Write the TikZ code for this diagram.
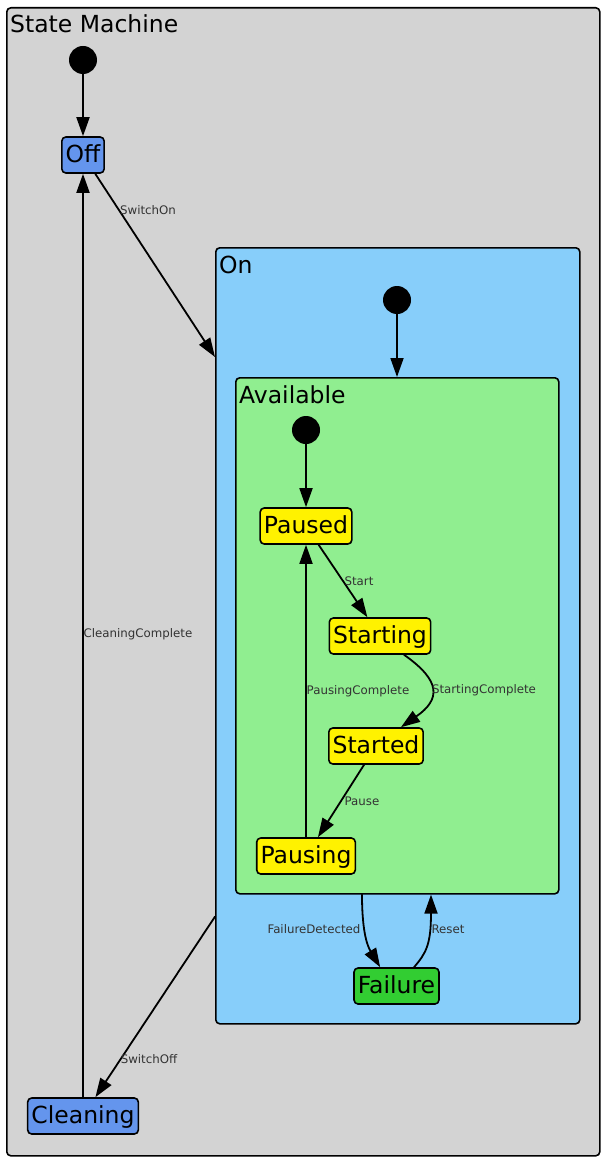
\documentclass[tikz,border=0pt]{standalone}
\usepackage{fontspec}
\setmainfont{DejaVu Sans}
\usetikzlibrary{arrows.meta,calc}
\definecolor{smgray}{HTML}{D3D3D3}
\definecolor{onblue}{HTML}{87CEFA}
\definecolor{availgreen}{HTML}{90EE90}
\definecolor{cornblue}{HTML}{6495ED}
\definecolor{limegr}{HTML}{32CD32}

\begin{document}
\begin{tikzpicture}[line cap=round,line join=round,>={Triangle[length=19pt,width=13pt]},x=1pt,y=-1pt,
    cluster/.style={draw,line width=1.6pt,rounded corners=4pt,anchor=north west,inner sep=0pt},
    clabel/.style={anchor=base west,inner sep=0pt,font=\fontsize{23.5}{28}\selectfont},
    state/.style={draw,line width=1.6pt,rounded corners=4pt,minimum height=36pt,inner xsep=3.8pt,inner ysep=0pt,text height=17.5pt,text depth=3pt,font=\fontsize{23.5}{28}\selectfont},
    init/.style={circle,fill=black,minimum size=28pt,inner sep=0pt},
    elabel/.style={inner sep=0pt,text=black!80,font=\fontsize{11.8}{14}\selectfont},
    edge/.style={line width=1.8pt,->}]
                        \useasboundingbox (0,0) rectangle (606,1161);
                        % clusters
                        \node [cluster,fill=smgray,minimum width=593pt,minimum height=1148pt] (sm) at (6,7) {};
                        \node [clabel] (smlabel) at (10,33) {State Machine};
                        \node [cluster,fill=onblue,minimum width=364pt,minimum height=776pt] (on) at (215,247) {};
                        \node [clabel] (onlabel) at (219,273) {On};
                        \node [cluster,fill=availgreen,minimum width=323pt,minimum height=516pt] (avail) at (235,377) {};
                        \node [clabel] (availlabel) at (239,403) {Available};
                        % states
                        \node [init] (init1) at (83,60) {};
                        \node [init] (init2) at (397,300) {};
                        \node [init] (init3) at (306,430) {};
                        \node [state,fill=cornblue] (off) at (83,155) {Off};
                        \node [state,fill=cornblue] (cleaning) at (83,1116) {Cleaning};
                        \node [state,fill=yellow] (paused) at (306,526) {Paused};
                        \node [state,fill=yellow] (starting) at (380,636) {Starting};
                        \node [state,fill=yellow] (started) at (376,746) {Started};
                        \node [state,fill=yellow] (pausing) at (306,856) {Pausing};
                        \node [state,fill=limegr] (failure) at (396.5,986) {Failure};
                        % transitions
                        \draw [edge] (init1) -- (off);
                        \draw [edge] (off) -- ($(on.north west)+(0,110)$);
                        \draw [edge] ($(on.south west)+(0,-108)$) -- (cleaning);
                        \draw [edge] (cleaning) -- (off);
                        \draw [edge] (init2) -- (avail.north -| init2);
                        \draw [edge] (init3) -- (paused);
                        \draw [edge] (paused) -- (starting);
                        \draw [edge] (starting.-38) .. controls +(37,26) and +(40,-28) .. (started.37);
                        \draw [edge] (started) -- (pausing);
                        \draw [edge] (pausing) -- (paused);
                        \draw [edge] ($(avail.south west)+(127,0)$) .. controls +(0,40) and +(-12,-20) .. (failure.131);
                        \draw [edge] (failure.47) .. controls +(12,-14) and +(0,50) .. ($(avail.south west)+(196,0)$);
                        % labels
                        \node [elabel] (lswitchon) at (148,210) {SwitchOn};
                        \node [elabel] (lswitchoff) at (149,1059) {SwitchOff};
                        \node [elabel] (lcleaning) at (138,634) {CleaningComplete};
                        \node [elabel] (lstart) at (359,581) {Start};
                        \node [elabel] (lstartingc) at (484,690) {StartingComplete};
                        \node [elabel] (lpausingc) at (358,691) {PausingComplete};
                        \node [elabel] (lpause) at (362,801) {Pause};
                        \node [elabel] (lfailure) at (314,929) {FailureDetected};
                        \node [elabel] (lreset) at (448,929) {Reset};
\end{tikzpicture}
\end{document}
